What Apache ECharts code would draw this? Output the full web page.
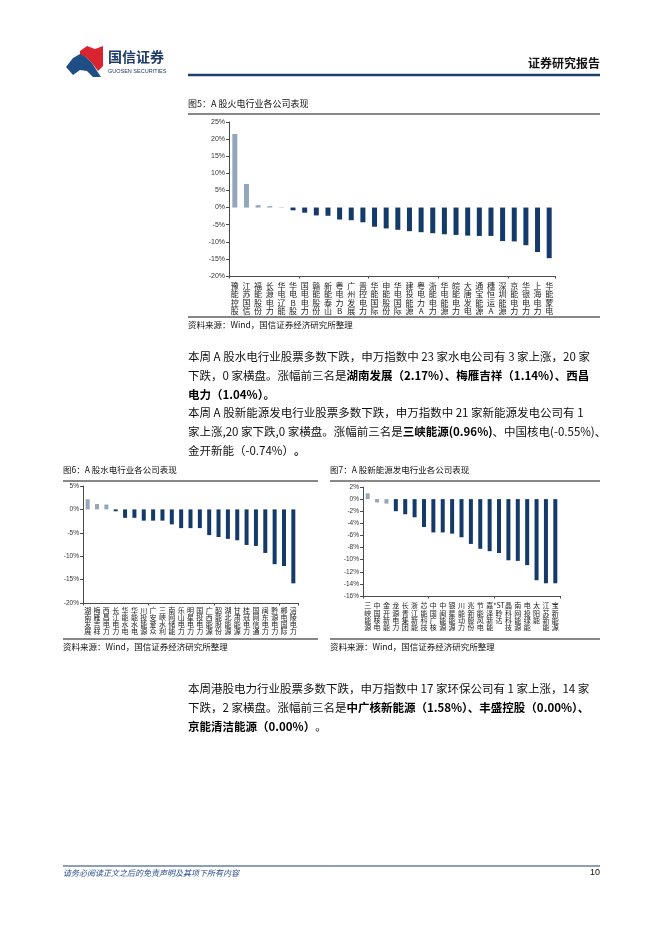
<!DOCTYPE html>
<html><head><meta charset="utf-8">
<script src="https://cdn.jsdelivr.net/npm/echarts@6/dist/echarts.min.js"></script>
<style>html,body{margin:0;padding:0;background:#fff}#c{width:662px;height:936px}</style>
</head><body><div id="c"></div>
<script>
// ---- Data ----
const fireCategories = ['豫能控股','江苏国信','福能股份','长源电力','华电辽能','华电B股','国电电力','赣能股份','新能泰山','粤电力B','广州发展','晋控电力','华能国际','申能股份','华电国际','建投能源','粤电力A','浙能电力','华电能源','皖能电力','大唐发电','通宝能源','穗恒运A','深圳能源','京能电力','华银电力','上海电力','华能蒙电'];
const fireValues = [21.5, 6.9, 0.7, 0.4, 0.05, -0.8, -1.5, -2.3, -2.4, -3.5, -3.7, -4.3, -5.6, -6.1, -6.5, -6.9, -7.2, -7.5, -7.8, -8.0, -8.2, -8.3, -8.3, -9.8, -9.9, -11.0, -13.0, -14.8];
const fireTicks = [-20, 25, 5];

const hydroCategories = ['湖南发展','梅雁吉祥','西昌电力','长江电力','华能水电','华能水电','川投能源','广安爱众','三峡水利','南网储能','乐山电力','明星电力','国投电力','广西能源','韶能股份','湖北能源','甘肃能源','桂冠电力','国网信通','闽东电力','黔源电力','郴电国际','涪陵电力'];
const hydroValues = [2.17, 1.14, 1.04, -0.4, -1.8, -1.8, -2.4, -2.4, -2.4, -3.2, -4.0, -4.0, -4.0, -5.5, -5.9, -6.3, -6.6, -7.6, -7.8, -9.3, -11.7, -12.1, -15.8];
const hydroTicks = [-20, 5, 5];

const newCategories = ['三峡能源','中国核电','金开新能','龙源电力','长青集团','浙江新能','芯能科技','中国广核','中闽能源','银星能源','川能动力','兆新股份','节能风电','嘉泽新能','*ST聆达','晶科科技','南网能源','电投绿能','太阳能','江苏新能','宝新能源'];
const newValues = [0.96, -0.55, -0.74, -2.0, -2.5, -3.0, -4.6, -5.5, -5.5, -5.7, -6.3, -7.4, -8.2, -8.6, -8.9, -10.1, -10.2, -10.9, -13.4, -13.9, -13.9];
const newTicks = [-16, 2, 2];

const highlightCounts = [4, 3, 3];
</script>
<script>
const chart = echarts.init(document.getElementById('c'), null, {renderer: 'canvas'});
const GRAY = '#93a6bb', NAVY = '#133a69', AX = '#4a4a4a';
const CJK = '"Noto Sans CJK SC", "Noto Sans", sans-serif';
const LAT = '"Liberation Sans", Arial, sans-serif';

function vert(s) { return s.match(/[A-Za-z0-9*]+|./g).join('\n'); }

const panels = [
  {cats: fireCategories, vals: fireValues, ticks: fireTicks, grid: {left: 229, top: 122, width: 326, height: 154}, bw: 5, lf: 8, lh: 8.2, lm: 6, yf: 7},
  {cats: hydroCategories, vals: hydroValues, ticks: hydroTicks, grid: {left: 83, top: 486, width: 215, height: 117}, bw: 4, lf: 7, lh: 7, lm: 4, yf: 6.5},
  {cats: newCategories, vals: newValues, ticks: newTicks, grid: {left: 363, top: 487, width: 197, height: 109}, bw: 4, lf: 7, lh: 7.3, lm: 6, yf: 6.5}
];

const grid = [], xAxis = [], yAxis = [], series = [];
panels.forEach((p, i) => {
  grid.push(Object.assign({containLabel: false}, p.grid));
  xAxis.push({
    type: 'category', gridIndex: i, position: 'bottom', data: p.cats,
    axisLine: {show: false}, axisTick: {show: false},
    axisLabel: {interval: 0, formatter: vert, fontSize: p.lf, lineHeight: p.lh, margin: p.lm, color: '#222', fontFamily: CJK, verticalAlign: 'top'}
  });
  xAxis.push({
    type: 'category', gridIndex: i, position: 'bottom', data: p.cats,
    axisLine: {show: true, onZero: true, lineStyle: {color: AX, width: 1}},
    axisTick: {show: true, length: 2.5, lineStyle: {color: AX}},
    axisLabel: {show: false}
  });
  yAxis.push({
    type: 'value', gridIndex: i, min: p.ticks[0], max: p.ticks[1], interval: p.ticks[2],
    axisLine: {show: true, lineStyle: {color: AX, width: 1}},
    axisTick: {show: true, length: 3, lineStyle: {color: AX}},
    splitLine: {show: false},
    axisLabel: {formatter: v => v + '%', fontSize: p.yf, color: '#333', fontFamily: LAT, margin: 4}
  });
  series.push({
    type: 'bar', xAxisIndex: i * 2, yAxisIndex: i, data: p.vals, barWidth: p.bw,
    itemStyle: {color: params => params.dataIndex < highlightCounts[i] ? GRAY : NAVY}
  });
});

function txt(x, y, text, o) {
  return {type: 'text', x: x, y: y, silent: true, style: Object.assign({text: text, fill: '#111', font: '9px ' + CJK, textVerticalAlign: 'middle'}, o || {})};
}
function hline(x1, x2, y, color, w) {
  return {type: 'line', silent: true, shape: {x1: x1, y1: y, x2: x2, y2: y}, style: {stroke: color, lineWidth: w}};
}
const BOLD = {fontWeight: 'bold', fontSize: 11.5, fontFamily: CJK, fill: '#000'};
const NORM = {fontSize: 11.5, fontFamily: CJK, fill: '#111'};
function para(x, y, text) {
  return {type: 'text', x: x, y: y, silent: true, style: {text: text, font: '11.5px ' + CJK, fill: '#111', textVerticalAlign: 'middle', rich: {b: BOLD, n: NORM}}};
}

const graphic = [
  // logo
  {type: 'polygon', silent: true, shape: {points: [[80,51],[87,46],[95,49],[103,46],[103,66],[98,71],[92,63],[86,57],[80,55]]}, style: {fill: '#d9232e'}},
  {type: 'polygon', silent: true, shape: {points: [[66,67],[73,58],[80,54],[86,57],[92,63],[97,71],[101,77],[93,77],[87,71],[80,70],[73,75]]}, style: {fill: '#1f4e86'}},
  txt(108, 57, '国信证券', {font: 'bold 14px ' + CJK, fill: '#1d3a6a'}),
  txt(108, 71, 'GUOSEN SECURITIES', {font: '5.5px ' + LAT, fill: '#1d3a6a'}),
  txt(600, 63, '证券研究报告', {font: 'bold 12px ' + CJK, fill: '#111', textAlign: 'right'}),
  hline(188, 600, 75, '#1f3f6e', 2.5),
  // figure 5
  txt(188, 104, '图5：A 股火电行业各公司表现', {font: '9px ' + CJK}),
  hline(188, 600, 114, '#111', 1),
  hline(188, 600, 317, '#111', 1),
  txt(188, 325, '资料来源：Wind，国信证券经济研究所整理', {font: '8.5px ' + CJK}),
  // paragraph 1
  para(188, 357, '本周 A 股水电行业股票多数下跌，申万指数中 23 家水电公司有 3 家上涨，20 家'),
  para(188, 376, '{n|下跌，0 家横盘。涨幅前三名是}{b|湖南发展（2.17%）、梅雁吉祥（1.14%）、西昌}'),
  para(188, 395, '{b|电力（1.04%）。}'),
  // paragraph 2
  para(188, 413, '本周 A 股新能源发电行业股票多数下跌，申万指数中 21 家新能源发电公司有 1'),
  para(188, 432, '{n|家上涨,20 家下跌,0 家横盘。涨幅前三名是}{b|三峡能源(0.96%)}{n|、中国核电(-0.55%)、}'),
  para(188, 451, '{n|金开新能（-0.74%）}{b|。}'),
  // figure 6
  txt(63, 470, '图6：A 股水电行业各公司表现', {font: '8.5px ' + CJK}),
  hline(63, 318, 481, '#111', 1),
  hline(63, 318, 639, '#111', 1),
  txt(63, 647, '资料来源：Wind，国信证券经济研究所整理', {font: '8.5px ' + CJK}),
  // figure 7
  txt(330, 470, '图7：A 股新能源发电行业各公司表现', {font: '8.5px ' + CJK}),
  hline(330, 600, 481, '#111', 1),
  hline(330, 600, 639, '#111', 1),
  txt(330, 647, '资料来源：Wind，国信证券经济研究所整理', {font: '8.5px ' + CJK}),
  // paragraph 3
  para(188, 689, '本周港股电力行业股票多数下跌，申万指数中 17 家环保公司有 1 家上涨，14 家'),
  para(188, 708, '{n|下跌，2 家横盘。涨幅前三名是}{b|中广核新能源（1.58%）、丰盛控股（0.00%）、}'),
  para(188, 727, '{b|京能清洁能源（0.00%）}{n|。}'),
  // footer
  hline(63, 600, 866, '#1f3f6e', 1),
  txt(63, 873, '请务必阅读正文之后的免责声明及其项下所有内容', {font: 'italic 8px ' + CJK, fill: '#2a4f8f'}),
  txt(600, 873, '10', {font: '9px ' + LAT, fill: '#111', textAlign: 'right'})
];

chart.setOption({
  animation: false,
  backgroundColor: '#fff',
  grid: grid, xAxis: xAxis, yAxis: yAxis, series: series, graphic: graphic
});
</script>
</body></html>
